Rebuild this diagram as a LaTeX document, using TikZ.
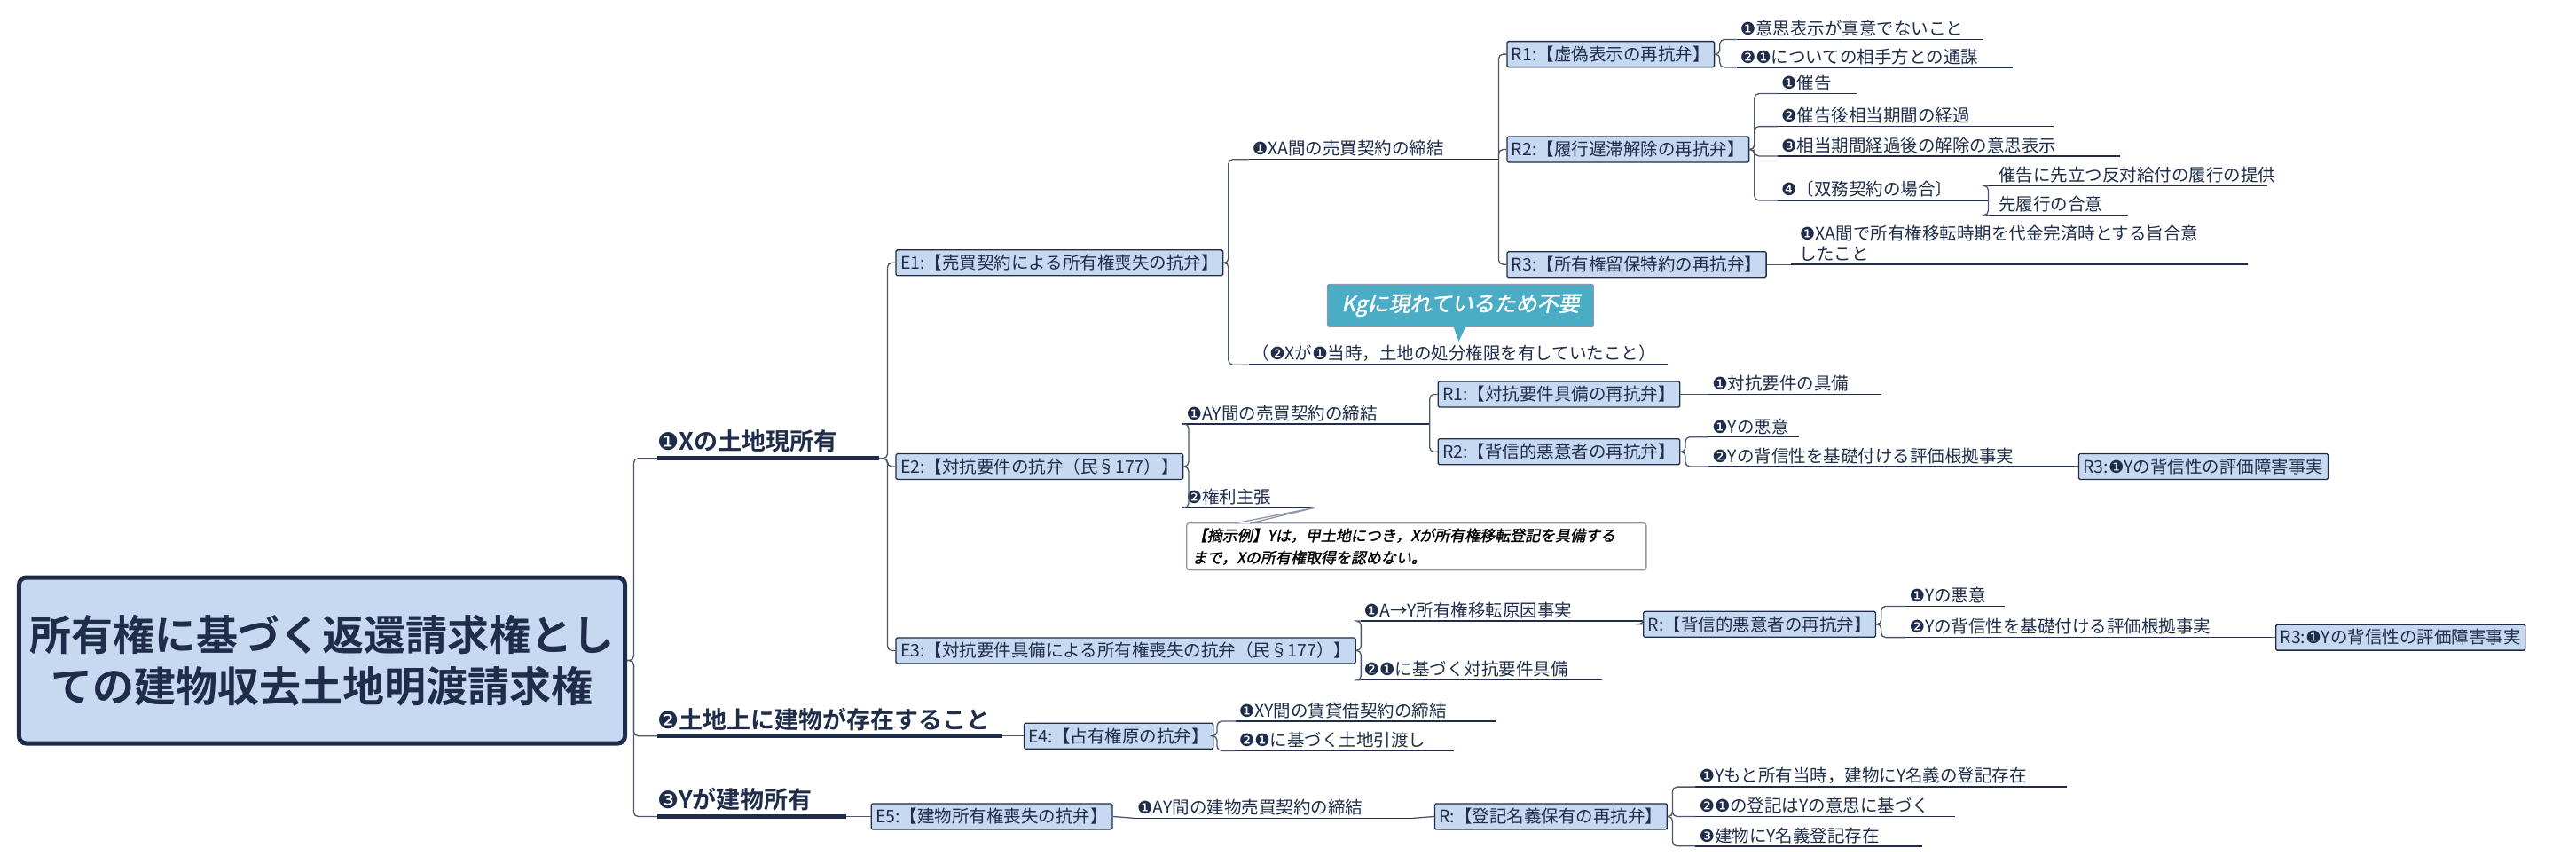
\documentclass[tikz,border=0pt]{standalone}
\usepackage{fontspec}
\setmainfont{Noto Sans CJK JP}
\newfontfamily\djf{DejaVu Sans}
\newfontfamily\itf[FakeSlant=0.2,FakeBold=1.5]{Noto Sans CJK JP}
\newfontfamily\bdf{Noto Sans CJK JP Bold}
\newcommand\nA{{\djf ❶}}
\newcommand\nB{{\djf ❷}}
\newcommand\nC{{\djf ❸}}
\newcommand\nD{{\djf ❹}}
\definecolor{boxblue}{HTML}{C6D9F0}
\definecolor{navy}{HTML}{1F2D4A}
\definecolor{callc}{HTML}{4BACC6}
\tikzset{
 x=1.852pt,y=-1.852pt,
 conn/.style={draw=navy!80,line width=1.3pt,rounded corners=5pt},
 leaf/.style={anchor=south west,inner xsep=4pt,inner ysep=3pt,align=left,font=\fontsize{19.5}{23}\selectfont,text=navy,
   text width=#1*1.852pt-8pt,
   append after command={(\tikzlastnode.south west) edge[draw=navy,line width=1.4pt] (\tikzlastnode.south east)}},
 leafL/.style={anchor=south west,inner xsep=0pt,inner ysep=6pt,align=left,font=\bdf\fontsize{27}{30}\selectfont,text=navy,
   text width=#1*1.852pt,
   append after command={(\tikzlastnode.south west) edge[draw=navy,line width=5pt] (\tikzlastnode.south east)}},
 mbox/.style={anchor=west,fill=boxblue,draw=navy,line width=1.3pt,inner xsep=5pt,minimum height=29pt,font=\fontsize{19.5}{23}\selectfont,text=navy,rounded corners=1.5pt},
 rootbox/.style={fill=boxblue,draw=navy,line width=5pt,rounded corners=8pt,minimum width=683pt,minimum height=187pt,align=center,font=\bdf\fontsize{47}{58}\selectfont,text=navy},
}
\begin{document}
\begin{tikzpicture}
\useasboundingbox (0,0) rectangle (1568,525.4);
\node[rootbox] (root) at (196,402) {所有権に基づく返還請求権とし\\ての建物収去土地明渡請求権};
\node[leafL=135] (l1) at (400,279) {\nA Xの土地現所有};
\node[leafL=210] (l2) at (400,448) {\nB 土地上に建物が存在すること};
\node[leafL=115] (l3) at (400,497) {\nC Yが建物所有};
\foreach \c in {l1,l2,l3} \draw[conn] (root.east) -- ++(4,0) |- (\c.south west);
% E boxes
\node[mbox] (E1) at (545,160) {E1:【売買契約による所有権喪失の抗弁】};
\node[mbox] (E2) at (545,284) {E2:【対抗要件の抗弁（民§177）】};
\node[mbox] (E3) at (545,396) {E3:【対抗要件具備による所有権喪失の抗弁（民§177）】};
\node[mbox] (E4) at (623,448) {E4:【占有権原の抗弁】};
\node[mbox] (E5) at (530,497) {E5:【建物所有権喪失の抗弁】};
\foreach \c in {E1,E2,E3} \draw[conn] (l1.south east) -- ++(5,0) |- (\c.west);
\draw[conn] (l2.south east) -- (E4.west);
\draw[conn] (l3.south east) -- (E5.west);
% E1 subtree
\node[leaf=152] (e1a) at (760,97) {\nA XA間の売買契約の締結};
\node[leaf=255] (e1b) at (760,222) {（\nB Xが\nA 当時，土地の処分権限を有していたこと）};
\foreach \c in {e1a,e1b} \draw[conn] (E1.east) -- ++(3,0) |- (\c.south west);
\node[mbox] (R1a) at (917,33) {R1:【虚偽表示の再抗弁】};
\node[mbox] (R1b) at (917,91) {R2:【履行遅滞解除の再抗弁】};
\node[mbox] (R1c) at (917,161) {R3:【所有権留保特約の再抗弁】};
\foreach \c in {R1a,R1b,R1c} \draw[conn] (e1a.south east) |- (\c.west);
\node[leaf=150] (r1a1) at (1057,24) {\nA 意思表示が真意でないこと};
\node[leaf=168] (r1a2) at (1057,41) {\nB\nA についての相手方との通謀};
\foreach \c in {r1a1,r1a2} \draw[conn] (R1a.east) -- ++(3,0) |- (\c.south west);
\node[leaf=48] (r1b1) at (1082,57) {\nA 催告};
\node[leaf=168] (r1b2) at (1082,77) {\nB 催告後相当期間の経過};
\node[leaf=208] (r1b3) at (1082,95) {\nC 相当期間経過後の解除の意思表示};
\node[leaf=128] (r1b4) at (1082,122) {\nD〔双務契約の場合〕};
\foreach \c in {r1b1,r1b2,r1b3,r1b4} \draw[conn] (R1b.east) -- ++(3,0) |- (\c.south west);
\node[leaf=170] (r1b4a) at (1210,113) {\hspace{8pt}催告に先立つ反対給付の履行の提供};
\node[leaf=85] (r1b4b) at (1210,131) {\hspace{8pt}先履行の合意};
\foreach \c in {r1b4a,r1b4b} \draw[conn] (r1b4.south east) |- (\c.south west);
\node[leaf=278] (r1c1) at (1090,161) {\hspace{6pt}\nA XA間で所有権移転時期を代金完済時とする旨合意\\\hspace{6pt}したこと};
\draw[conn] (R1c.east) -- (r1c1.south west);
% callout
\node[fill=callc,draw=navy!50,line width=1pt,rounded corners=2pt,minimum width=300pt,minimum height=48pt,text=white,font=\itf\fontsize{24}{28}\selectfont] (kg) at (889,186) {Kgに現れているため不要};
\fill[callc] ([xshift=-8pt,yshift=1pt]kg.south) -- ([xshift=-2pt,yshift=-16pt]kg.south) -- ([xshift=6pt,yshift=1pt]kg.south) -- cycle;
% E2 subtree
\node[leaf=150] (e2a) at (720,258) {\nA AY間の売買契約の締結};
\node[leaf=80] (e2b) at (720,309) {\nB 権利主張};
\foreach \c in {e2a,e2b} \draw[conn] (E2.east) -- ++(3,0) |- (\c.south west);
\node[anchor=north west,draw=navy!50,line width=1.3pt,fill=white,rounded corners=3pt,text width=506pt,align=left,inner sep=6pt,font=\itf\fontsize{17}{25}\selectfont,text=black] (note) at (722,318) {【摘示例】Yは，甲土地につき，Xが所有権移転登記を具備する\\まで，Xの所有権取得を認めない。};
\draw[draw=navy!50,line width=1.3pt,fill=white] ([xshift=55pt,yshift=-1pt]note.north west) -- (e2b.south east) -- ([xshift=72pt,yshift=-1pt]note.north west);
\node[mbox] (R2a) at (875,240) {R1:【対抗要件具備の再抗弁】};
\node[mbox] (R2b) at (875,275) {R2:【背信的悪意者の再抗弁】};
\foreach \c in {R2a,R2b} \draw[conn] (e2a.south east) |- (\c.west);
\node[leaf=105] (r2a1) at (1040,240) {\nA 対抗要件の具備};
\draw[conn] (R2a.east) -- (r2a1.south west);
\node[leaf=55] (r2b1) at (1040,266) {\nA Yの悪意};
\node[leaf=222] (r2b2) at (1040,284) {\nB Yの背信性を基礎付ける評価根拠事実};
\foreach \c in {r2b1,r2b2} \draw[conn] (R2b.east) -- ++(3,0) |- (\c.south west);
\node[mbox] (R2c) at (1265,284) {R3:\nA Yの背信性の評価障害事実};
\draw[conn] (r2b2.south east) -- (R2c.west);
% E3 subtree
\node[leaf=172] (e3a) at (828,378) {\nA A→Y所有権移転原因事実};
\node[leaf=147] (e3b) at (828,414) {\nB\nA に基づく対抗要件具備};
\foreach \c in {e3a,e3b} \draw[conn] (E3.east) -- ++(3,0) |- (\c.south west);
\node[mbox] (R3a) at (1000,380) {R:【背信的悪意者の再抗弁】};
\draw[conn] (e3a.south east) |- (R3a.west);
\node[leaf=60] (r3a1) at (1160,369) {\nA Yの悪意};
\node[leaf=222] (r3a2) at (1160,388) {\nB Yの背信性を基礎付ける評価根拠事実};
\foreach \c in {r3a1,r3a2} \draw[conn] (R3a.east) -- ++(3,0) |- (\c.south west);
\node[mbox] (R3b) at (1385,388) {R3:\nA Yの背信性の評価障害事実};
\draw[conn] (r3a2.south east) -- (R3b.west);
% E4 subtree
\node[leaf=158] (e4a) at (752,439) {\nA XY間の賃貸借契約の締結};
\node[leaf=133] (e4b) at (752,457) {\nB\nA に基づく土地引渡し};
\foreach \c in {e4a,e4b} \draw[conn] (E4.east) -- ++(2,0) |- (\c.south west);
% E5 subtree
\node[leaf=170] (e5a) at (690,498) {\nA AY間の建物売買契約の締結};
\draw[conn] (E5.east) -- (e5a.south west);
\node[mbox] (R5) at (873,497) {R:【登記名義保有の再抗弁】};
\draw[conn] (e5a.south east) -- (R5.west);
\node[leaf=226] (r5a) at (1032,479) {\nA Yもと所有当時，建物にY名義の登記存在};
\node[leaf=158] (r5b) at (1032,497) {\nB\nA の登記はYの意思に基づく};
\node[leaf=138] (r5c) at (1032,515) {\nC 建物にY名義登記存在};
\foreach \c in {r5a,r5b,r5c} \draw[conn] (R5.east) -- ++(3,0) |- (\c.south west);
\end{tikzpicture}
\end{document}
